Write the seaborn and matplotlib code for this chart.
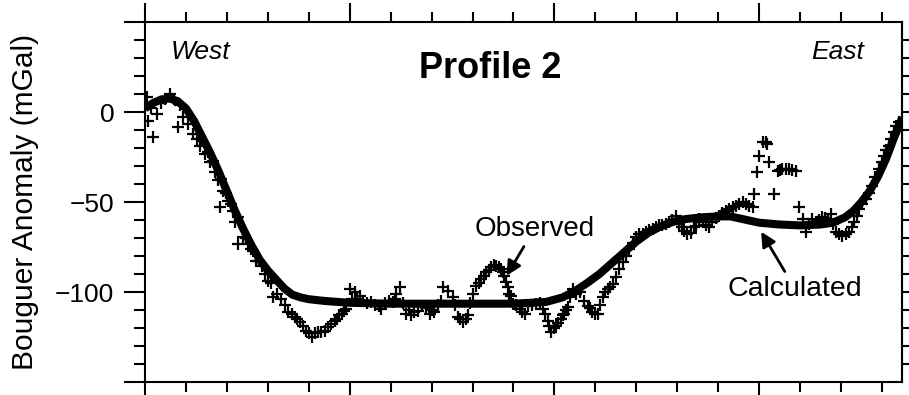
import numpy as np
import pandas as pd
import matplotlib
matplotlib.use("Agg")
import matplotlib.pyplot as plt
import seaborn as sns

# Distance along profile (km) and computed Bouguer anomaly (mGal)
calc_x = [0, 2, 4, 6, 8, 10, 12, 14, 16, 18, 20, 22, 24, 26, 28, 30, 32, 34, 36, 38,
          40, 44, 50, 60, 70, 80, 90, 98, 102, 105, 108, 111, 114, 117, 120, 123, 126,
          129, 132, 136, 140, 143, 146, 150, 155, 160, 165, 168, 171, 173, 175, 177,
          179, 181, 183, 185]
calc_y = [2, 5, 7, 7.5, 6, 2, -5, -14, -23, -33, -44, -55, -65, -74, -82, -88, -93,
          -98, -101.5, -103, -104, -105, -106, -106.5, -106.5, -106.5, -106.5, -105.5,
          -103, -99.5, -95, -90, -84, -78, -72, -67, -63.5, -61, -59.5, -58.5, -58,
          -58, -59.5, -61.5, -62.5, -63, -62.5, -61.5, -58.5, -55, -50, -44, -36, -26,
          -14, -3]

# Station readings (km, mGal)
obs_x = [0.4, 0.8, 1.5, 2.0, 2.9, 4.0, 5.0, 6.1, 7.0, 8.1, 8.5, 9.3, 10.6, 11.8, 12.6,
         13.4, 14.0, 14.6, 15.3, 15.9, 16.5, 17.1, 17.9, 18.3, 18.6, 19.1, 19.7, 20.3,
         20.9, 21.5, 22.0, 22.8, 22.8, 24.0, 24.6, 25.2, 25.8, 26.4, 27.2, 27.9, 28.5,
         29.3, 30.1, 30.7, 31.3, 32.3, 33.3, 34.2, 35.0, 35.8, 36.6, 37.2, 37.8, 38.6,
         39.4, 40.0, 40.7, 41.5, 42.3, 43.1, 43.9, 44.7, 45.5, 46.3, 46.8, 47.4, 48.0,
         48.6, 49.2, 50.0, 50.6, 51.2, 51.8, 52.4, 53.2, 54.2, 55.2, 56.2, 57.2, 57.7,
         58.6, 59.6, 60.6, 61.0, 61.4, 62.2, 63.0, 63.8, 64.4, 65.0, 65.8, 66.7, 67.6,
         68.6, 69.5, 70.1, 70.7, 71.6, 72.2, 72.8, 74.0, 75.2, 75.8, 76.4, 77.0, 77.6,
         78.3, 78.9, 79.5, 80.1, 80.9, 81.5, 82.1, 82.7, 83.3, 84.0, 84.6, 85.2, 85.8,
         86.4, 87.0, 87.4, 87.8, 88.2, 88.6, 89.0, 89.4, 89.8, 90.6, 91.5, 92.1, 92.7,
         93.5, 94.5, 95.5, 96.4, 97.2, 97.8, 98.4, 98.8, 99.2, 99.8, 100.4, 101.0,
         101.6, 102.0, 102.4, 102.8, 103.2, 103.8, 104.5, 105.3, 106.2, 107.3, 108.1,
         108.7, 109.3, 109.9, 110.6, 111.2, 111.8, 112.4, 113.0, 113.6, 114.2, 115.0,
         115.8, 116.7, 117.5, 118.3, 119.1, 119.9, 120.7, 121.6, 122.4, 123.2, 124.0,
         124.8, 125.6, 126.4, 127.2, 128.0, 128.8, 129.7, 130.5, 131.1, 131.7, 132.5,
         133.3, 134.0, 134.5, 135.4, 136.2, 137.0, 137.8, 138.6, 139.4, 140.2, 141.0,
         141.8, 142.7, 143.5, 144.3, 145.1, 146.0, 146.8, 147.6, 148.4, 148.8, 149.6,
         150.0, 151.0, 151.6, 152.0, 152.4, 153.7, 154.5, 155.1, 155.7, 156.5, 157.3,
         158.1, 158.9, 159.8, 160.6, 161.4, 162.2, 163.0, 163.8, 164.6, 165.4, 166.2,
         166.8, 167.5, 168.1, 168.7, 169.5, 170.3, 171.1, 172.0, 172.6, 173.2, 173.8,
         174.4, 175.2, 176.0, 176.8, 177.6, 178.4, 179.3, 179.9, 180.5, 181.1, 181.7,
         182.3, 182.9, 183.5, 184.1]
obs_y = [8.2, -4.8, 2, -14, -1.1, 5, 7, 10, 7, -8.5, 4, -3, -6.7, -12.2, -15, -18.7,
         -16, -23.3, -22, -28, -27, -33.5, -38, -53, -37, -43.7, -45, -49.3, -51, -54.8,
         -61.3, -58.5, -73.3, -69.6, -70, -73.3, -76, -77, -82.6, -83, -85.4, -90, -93.7,
         -95, -103, -101, -104, -107, -111, -112, -114, -115, -116.9, -119, -121.5, -123,
         -125.2, -123, -122.4, -122, -121.5, -119.5, -117.8, -116, -115, -113, -112,
         -110.5, -109.4, -98.3, -104, -100, -104, -102, -105, -106, -105.5, -107, -108,
         -109.4, -106, -105, -105.5, -104, -101, -97.4, -106, -112, -110, -113, -111,
         -110.4, -108, -109, -112, -110, -111.3, -107, -105, -97.4, -99.3, -103, -107,
         -114, -115, -116.9, -115, -113, -106, -101, -96.5, -95, -92.8, -91, -89, -88,
         -86.3, -85, -85.4, -86, -87.2, -89, -91, -94.6, -97, -101, -102, -106.7, -107,
         -109.4, -111, -112, -108, -107, -106.5, -106, -109.4, -112, -116, -119, -122.4,
         -120, -118.7, -117, -115, -113, -112, -110, -108.5, -103, -98.3, -101, -100,
         -104.8, -107.6, -109, -111.3, -112, -112, -107, -103, -100, -98.3, -97, -95.6,
         -91.8, -87, -83.5, -80, -76, -73, -69.6, -68, -67.5, -66.9, -65.5, -65, -64,
         -63, -63, -62.2, -61, -60, -57.6, -62, -64, -66, -68, -67, -64, -63.1, -59.4,
         -61, -63, -64, -61, -59, -57.6, -56, -55, -53.9, -53, -52, -51, -50.2, -51, -52,
         -53, -45.6, -33.5, -24.3, -16.5, -16.9, -18, -28, -45.6, -32.6, -32, -31.7,
         -31.5, -31.7, -32, -32.6, -53, -59.4, -66.9, -62, -59.4, -61, -60, -58.5, -59,
         -60, -56.7, -62, -66.9, -68, -68.7, -68, -66.9, -64, -61.3, -58, -53.9, -51,
         -48.3, -45, -40.9, -36, -31.7, -28, -24.3, -21, -18.7, -15, -11.3, -8, -5.7]

y_major = [-150, -100, -50, 0, 50]
y_labels = ["", "\u2212100", "\u221250", "0", ""]

calc = pd.DataFrame({"distance": calc_x, "anomaly": calc_y})
obs = pd.DataFrame({"distance": obs_x, "anomaly": obs_y})

sns.set_style("ticks")
plt.rcParams["font.family"] = ["Liberation Sans", "DejaVu Sans"]
plt.rcParams.update({
    "axes.linewidth": 1.5,
    "axes.edgecolor": "black",
    "axes.labelcolor": "black",
    "text.color": "black",
    "xtick.color": "black",
    "ytick.color": "black",
})

fig = plt.figure(figsize=(9.09, 3.95), dpi=100)
ax = fig.add_axes([0.1595, 0.0329, 0.8328, 0.9114])

sns.lineplot(data=calc, x="distance", y="anomaly", ax=ax, color="black",
             linewidth=5.8, solid_capstyle="butt", zorder=2)
sns.scatterplot(data=obs, x="distance", y="anomaly", ax=ax, marker="+",
                s=85, color="black", linewidth=1.6, zorder=3)

ax.set_xlim(0, 184.9)
ax.set_ylim(-150, 50)
ax.set_xticks([0, 50, 100, 150])
ax.set_xticks(np.arange(0, 185, 10), minor=True)
ax.set_xticklabels([])
ax.set_xlabel("")
ax.set_yticks(y_major, labels=y_labels)
ax.set_yticks(np.arange(-150, 51, 10), minor=True)
ax.set_ylabel("Bouguer Anomaly (mGal)", fontsize=21.5, labelpad=12)

ax.tick_params(axis="x", which="both", direction="out", top=True, bottom=True, width=1.5)
ax.tick_params(axis="x", which="major", length=14)
ax.tick_params(axis="x", which="minor", length=7)
ax.tick_params(axis="y", which="both", direction="out", left=True, right=False, width=1.5)
ax.tick_params(axis="y", which="major", length=15, labelsize=19, pad=7)
ax.tick_params(axis="y", which="minor", length=8)

right = ax.secondary_yaxis("right")
right.set_yticks(np.arange(-140, 50, 10))
right.tick_params(direction="out", length=6, width=1.5, labelright=False)
right.set_yticklabels([])

for s in ax.spines.values():
    s.set_visible(True)
    s.set_linewidth(1.5)

ax.text(0.074, 0.917, "West", transform=ax.transAxes, fontsize=19,
        style="italic", ha="center", va="center")
ax.text(0.915, 0.917, "East", transform=ax.transAxes, fontsize=19,
        style="italic", ha="center", va="center")
ax.text(0.456, 0.872, "Profile 2", transform=ax.transAxes, fontsize=26,
        fontweight="bold", ha="center", va="center")

arrow = dict(arrowstyle="-|>", color="black", lw=2, mutation_scale=22,
             shrinkA=1, shrinkB=0)
ax.annotate("Observed", xy=(88.3, -91), xytext=(95.1, -65), fontsize=20,
            ha="center", va="center", arrowprops=arrow)
ax.annotate("Calculated", xy=(150.5, -66.5), xytext=(158.8, -98.3), fontsize=20.5,
            ha="center", va="center", arrowprops=arrow)

fig.savefig("out.png", dpi=100)
